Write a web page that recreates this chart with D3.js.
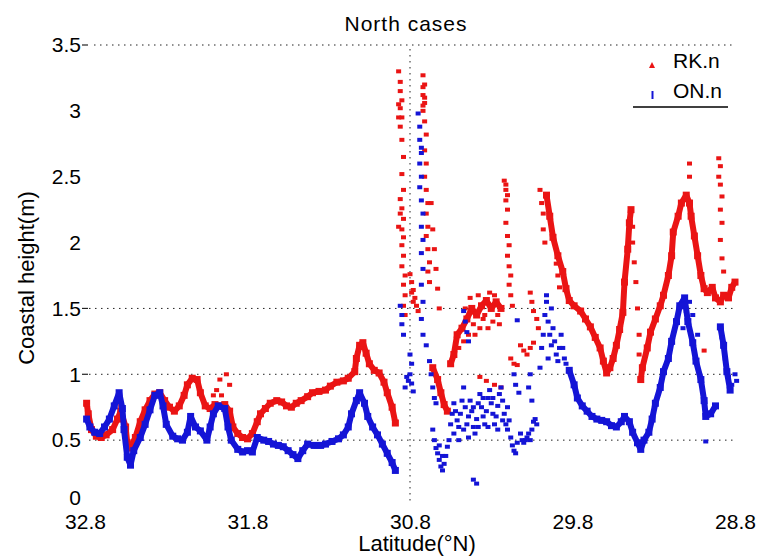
<!DOCTYPE html>
<html>
<head>
<meta charset="utf-8">
<script src="https://cdn.jsdelivr.net/npm/d3@7"></script>
<style>
    body { margin: 0; background: #fff; }
    text { font-family: Arial, "Liberation Sans", sans-serif; fill: #000; }
</style>
</head>
<body>
<div id="chart"></div>
<script>
// Axis ticks
var xTicks = [32.8, 31.8, 30.8, 29.8, 28.8];
var yTicks = [0, 0.5, 1, 1.5, 2, 2.5, 3, 3.5];
var gridY = [0.5, 1, 1.5, 3.5];
var gridX = [30.8];
var seriesNames = ["RK.n", "ON.n"];

// RK.n : continuous stretches [latitude, height]
var rkTrack = [
    [32.79,0.78],[32.78,0.70],[32.76,0.58],[32.73,0.53],[32.70,0.52],[32.67,0.54],[32.63,0.58],[32.60,0.66],
    [32.58,0.72],[32.55,0.60],[32.54,0.48],[32.52,0.44],[32.49,0.52],[32.46,0.64],[32.43,0.73],[32.40,0.80],
    [32.37,0.85],[32.34,0.86],[32.31,0.80],[32.28,0.75],[32.25,0.72],[32.22,0.76],[32.19,0.84],[32.17,0.92],
    [32.14,0.97],[32.11,0.96],[32.09,0.86],[32.06,0.76],[32.03,0.74],[32.00,0.77],[31.97,0.76],[31.94,0.77],
    [31.91,0.72],[31.89,0.60],[31.86,0.55],[31.83,0.52],[31.80,0.51],[31.77,0.55],[31.74,0.64],[31.72,0.70],
    [31.69,0.74],[31.66,0.78],[31.62,0.80],[31.59,0.79],[31.56,0.76],[31.53,0.75],[31.50,0.78],[31.47,0.80],
    [31.43,0.83],[31.40,0.86],[31.36,0.87],[31.32,0.88],[31.29,0.91],[31.25,0.94],[31.21,0.95],[31.18,0.97],
    [31.14,1.02],[31.13,1.12],[31.11,1.22],[31.09,1.24],[31.07,1.16],[31.05,1.08],[31.02,1.03],[30.99,1.01],
    [30.96,0.94],[30.94,0.86],[30.91,0.75],[30.89,0.63],
    [30.66,1.05],[30.63,0.96],[30.61,0.86],[30.59,0.77],[30.57,0.72],
    [30.55,1.08],[30.53,1.15],[30.51,1.30],[30.48,1.35],[30.45,1.42],[30.42,1.50],[30.39,1.45],[30.36,1.52],
    [30.33,1.56],[30.30,1.50],[30.27,1.55],[30.24,1.50],
    [29.96,2.36],[29.94,2.20],[29.92,2.04],[29.89,1.90],[29.86,1.78],[29.84,1.65],[29.82,1.56],[29.79,1.52],
    [29.75,1.48],[29.72,1.42],[29.69,1.36],[29.66,1.28],[29.63,1.20],[29.61,1.10],[29.59,1.01],[29.57,1.05],
    [29.55,1.12],[29.53,1.22],[29.51,1.34],[29.49,1.47],[29.48,1.70],[29.46,1.95],[29.45,2.15],[29.44,2.25],
    [29.38,0.96],[29.37,1.05],[29.34,1.20],[29.32,1.32],[29.29,1.42],[29.26,1.52],[29.24,1.60],[29.21,1.75],
    [29.19,1.90],[29.18,2.08],[29.15,2.20],[29.13,2.30],[29.10,2.36],[29.08,2.30],[29.07,2.20],[29.05,2.05],
    [29.03,1.90],[29.01,1.75],[28.99,1.65],[28.97,1.62],[28.94,1.66],[28.92,1.58],[28.89,1.55],[28.87,1.60],
    [28.84,1.58],[28.82,1.66],[28.80,1.70]
];

// RK.n : scattered readings
var rkScatter = [
    [31.99,0.88],[31.97,0.96],[31.93,1.00],[31.96,0.84],[32.01,0.84],[31.91,0.92],[32.58,0.76],
    [30.87,3.30],[30.86,3.22],[30.86,3.15],[30.85,3.08],[30.86,3.02],[30.85,2.95],[30.86,2.88],[30.85,2.78],
    [30.84,2.65],[30.85,2.52],[30.84,2.40],[30.86,2.33],[30.85,2.26],[30.84,2.18],[30.85,2.10],[30.84,2.04],
    [30.85,1.98],[30.84,1.90],[30.85,1.82],[30.83,1.75],[30.84,1.68],[30.83,1.60],[30.84,1.52],[30.83,1.45],
    [30.87,3.05],[30.87,2.95],[30.86,2.22],[30.87,2.12],
    [30.72,3.27],[30.71,3.20],[30.72,3.12],[30.71,3.06],[30.72,3.00],[30.71,2.92],[30.70,2.82],[30.71,2.70],
    [30.70,2.60],[30.71,2.50],[30.70,2.40],[30.69,2.30],[30.70,2.22],[30.69,2.12],[30.70,2.05],[30.69,1.95],
    [30.68,1.85],[30.69,1.78],[30.68,1.70],[30.72,3.18],[30.71,3.10],[30.72,3.04],
    [30.80,1.76],[30.79,1.70],[30.78,1.64],[30.77,1.58],[30.76,1.52],[30.75,1.48],[30.79,1.62],[30.78,1.55],
    [30.67,2.30],[30.66,2.10],[30.65,1.95],[30.64,1.80],[30.63,1.65],[30.62,1.50],
    [30.37,0.98],[30.33,0.95],[30.28,0.92],[30.24,0.90],
    [30.44,1.30],[30.41,1.38],[30.38,1.60],[30.35,1.42],[30.31,1.62],[30.29,1.40],[30.26,1.45],
    [30.50,1.20],[30.47,1.25],[30.46,1.50],[30.43,1.58],[30.40,1.30],[30.37,1.35],[30.34,1.45],[30.32,1.35],
    [30.28,1.60],[30.25,1.38],
    [30.22,2.47],[30.21,2.40],[30.21,2.32],[30.20,2.25],[30.21,2.15],[30.20,2.05],[30.19,1.98],[30.20,1.90],
    [30.19,1.82],[30.18,1.75],[30.19,1.68],[30.18,1.60],[30.17,1.52],[30.21,2.44],[30.20,2.36],
    [30.18,1.12],[30.16,1.08],[30.14,1.07],[30.12,1.22],[30.10,1.18],[30.08,1.15],[30.06,1.20],[30.04,1.24],
    [30.06,1.62],[30.05,1.55],[30.04,1.48],[30.02,1.42],[30.01,1.35],
    [30.00,2.40],[29.99,2.30],[29.98,2.22],[29.98,2.10],[29.97,2.00],
    [29.90,1.84],[29.89,1.75],[29.88,1.66],
    [29.43,2.12],[29.43,2.00],[29.42,1.85],[29.41,1.70],[29.40,1.50],[29.39,1.30],[29.39,1.15],
    [29.08,2.50],[29.08,2.60],
    [28.90,2.64],[28.89,2.58],[28.90,2.50],[28.89,2.44],[28.88,2.35],[28.89,2.25],[28.88,2.15],[28.89,2.02],
    [28.88,1.88],[28.87,1.78],[28.99,1.18]
];

// ON.n : continuous stretches [latitude, height]
var onTrack = [
    [32.79,0.66],[32.77,0.60],[32.74,0.56],[32.71,0.55],[32.68,0.60],[32.65,0.66],[32.62,0.76],[32.59,0.86],
    [32.57,0.74],[32.56,0.58],[32.54,0.37],[32.52,0.31],[32.50,0.42],[32.46,0.52],[32.43,0.62],[32.40,0.73],
    [32.37,0.84],[32.34,0.86],[32.32,0.76],[32.30,0.62],[32.26,0.53],[32.23,0.51],[32.20,0.50],[32.17,0.56],
    [32.15,0.68],[32.12,0.60],[32.09,0.57],[32.05,0.50],[32.03,0.60],[32.01,0.70],[31.98,0.76],[31.94,0.74],
    [31.92,0.60],[31.90,0.50],[31.86,0.43],[31.83,0.41],[31.80,0.42],[31.77,0.41],[31.74,0.52],[31.70,0.50],
    [31.67,0.49],[31.64,0.47],[31.61,0.46],[31.58,0.45],[31.55,0.42],[31.52,0.39],[31.49,0.36],[31.46,0.42],
    [31.43,0.47],[31.39,0.46],[31.35,0.46],[31.32,0.47],[31.28,0.49],[31.24,0.51],[31.21,0.54],[31.18,0.60],
    [31.16,0.70],[31.13,0.80],[31.11,0.86],[31.08,0.78],[31.06,0.68],[31.03,0.60],[31.00,0.54],[30.97,0.47],
    [30.94,0.40],[30.91,0.33],[30.89,0.27],
    [29.82,1.03],[29.79,0.92],[29.77,0.82],[29.74,0.76],[29.71,0.72],[29.68,0.68],[29.65,0.66],[29.62,0.65],
    [29.59,0.64],[29.56,0.61],[29.53,0.60],[29.50,0.64],[29.48,0.68],[29.45,0.64],[29.43,0.56],[29.40,0.48],
    [29.38,0.43],[29.36,0.50],[29.33,0.56],[29.31,0.66],[29.29,0.78],[29.26,0.90],[29.24,1.02],[29.21,1.12],
    [29.19,1.25],[29.16,1.40],[29.14,1.52],[29.11,1.58],[29.09,1.40],[29.06,1.24],[29.04,1.10],[29.01,0.96],
    [28.99,0.80],[28.98,0.68],[28.95,0.70],[28.92,0.76],[28.89,1.36],[28.87,1.22],[28.85,1.02],[28.83,0.88]
];

// ON.n : scattered readings
var onScatter = [
    [30.86,1.52],[30.85,1.45],[30.85,1.38],[30.84,1.30],
    [30.75,2.98],[30.74,2.88],[30.74,2.78],[30.73,2.72],[30.73,2.68],[30.74,2.60],[30.73,2.50],[30.74,2.42],
    [30.73,2.32],[30.72,2.22],[30.73,2.12],[30.72,2.02],[30.73,1.92],[30.72,1.80],[30.73,1.68],[30.72,1.55],
    [30.73,1.42],[30.72,1.30],
    [30.80,1.15],[30.79,1.08],[30.80,1.00],[30.79,0.93],[30.78,0.87],[30.81,0.95],[30.82,0.98],[30.83,0.90],
    [30.70,1.22],[30.68,1.10],[30.67,1.00],[30.66,0.90],[30.65,0.82],[30.64,0.78],
    [30.66,0.58],[30.65,0.50],[30.64,0.44],[30.63,0.40],[30.62,0.35],[30.61,0.30],[30.60,0.27],[30.59,0.32],
    [30.58,0.38],[30.57,0.45],[30.56,0.50],[30.62,0.46],[30.60,0.38],
    [30.55,0.62],[30.54,0.70],[30.53,0.78],[30.52,0.72],[30.51,0.65],[30.50,0.60],[30.49,0.70],[30.48,0.80],
    [30.47,0.90],[30.46,0.75],[30.45,0.62],[30.44,0.68],[30.43,0.80],[30.42,0.72],[30.41,0.60],[30.40,0.55],
    [30.39,0.66],[30.38,0.78],[30.37,0.85],
    [30.53,0.55],[30.50,0.50],[30.47,0.58],[30.44,0.52],[30.41,0.75],[30.38,0.60],[30.35,0.82],[30.32,0.60],
    [30.29,0.82],[30.26,0.58],[30.23,0.65],[30.20,0.75],
    [30.47,1.48],[30.46,1.40],[30.45,1.32],[30.44,1.25],
    [30.36,0.75],[30.35,0.68],[30.34,0.62],[30.33,0.72],[30.32,0.82],[30.31,0.88],[30.30,0.78],[30.29,0.70],
    [30.28,0.62],[30.27,0.68],[30.26,0.76],[30.25,0.85],[30.24,0.90],[30.23,0.80],[30.22,0.70],[30.21,0.62],
    [30.20,0.58],[30.19,0.65],
    [30.18,0.52],[30.17,0.46],[30.16,0.42],[30.15,0.40],[30.14,0.48],
    [30.12,0.55],[30.11,0.50],[30.10,0.48],[30.09,0.50],[30.08,0.52],[30.07,0.55],[30.06,0.50],[30.05,0.58],
    [30.04,0.64],[30.03,0.66],[30.02,0.62],
    [30.14,1.41],[30.16,1.00],[30.15,0.92],[30.13,0.86],
    [30.00,1.05],[29.99,1.20],[29.98,1.30],[29.97,1.45],[29.96,1.55],[29.95,1.40],[29.94,1.30],[29.93,1.22],
    [29.92,1.35],[29.91,1.25],[29.90,1.15],[29.89,1.10],[29.88,1.20],[29.87,1.30],[29.86,1.20],[29.85,1.12],
    [29.84,1.08],[29.96,1.60],[29.93,1.50],[29.95,1.12],
    [30.41,0.20],[30.39,0.17],
    [30.07,0.90],[30.06,1.00],[30.05,0.80],
    [29.12,1.35],[29.10,1.48],[29.08,1.55],[29.06,1.45],[29.03,1.30],[28.98,0.49],
    [28.88,1.28],[28.86,1.12],[28.84,0.98],[28.82,0.92],[28.80,1.00],[28.79,0.95]
];

var colors = { "RK.n": "#ea1414", "ON.n": "#1414d6" };

// Define dimensions for svg container
var svgWidth = 757;
var svgHeight = 559;

var svg = d3.select("#chart")
    .append("svg")
    .attr("width", svgWidth)
    .attr("height", svgHeight);

// Scales (latitude runs from north to south)
var xScale = d3.scaleLinear().domain([32.8, 28.8]).range([85, 735]);
var yScale = d3.scaleLinear().domain([0, 3.5]).range([506, 45]);

// Dotted grid lines
svg.selectAll(".gridY")
    .data(gridY)
    .enter()
    .append("line")
    .attr("x1", d => d === 3.5 ? 94 : 89)
    .attr("x2", 735)
    .attr("y1", d => yScale(d))
    .attr("y2", d => yScale(d))
    .attr("stroke", "#222")
    .attr("stroke-width", 1)
    .attr("stroke-dasharray", "1.5,4.5");

svg.selectAll(".gridX")
    .data(gridX)
    .enter()
    .append("line")
    .attr("x1", d => xScale(d))
    .attr("x2", d => xScale(d))
    .attr("y1", yScale(3.5) + 4)
    .attr("y2", yScale(0) - 3)
    .attr("stroke", "#222")
    .attr("stroke-width", 1)
    .attr("stroke-dasharray", "1.5,4.5");

// small tick dashes next to some labels
svg.selectAll(".tickDash")
    .data([1, 1.5, 3.5])
    .enter()
    .append("line")
    .attr("x1", 82)
    .attr("x2", 88)
    .attr("y1", d => yScale(d))
    .attr("y2", d => yScale(d))
    .attr("stroke", "#222")
    .attr("stroke-width", 1.2);

// Axes (no axis lines, labels only)
var leftAxis = d3.axisLeft(yScale)
    .tickValues(yTicks)
    .tickSize(0)
    .tickPadding(0)
    .tickFormat(d3.format("~g"));
var yAxis = svg.append("g")
    .attr("transform", "translate(81, 0)")
    .call(leftAxis);

var bottomAxis = d3.axisBottom(xScale)
    .tickValues(xTicks)
    .tickSize(0)
    .tickPadding(0)
    .tickFormat(d3.format(".1f"));
var xAxis = svg.append("g")
    .attr("transform", "translate(0, 514)")
    .call(bottomAxis);

[xAxis, yAxis].forEach(function (g) {
    g.select(".domain").remove();
    g.selectAll("text")
        .style("font-family", "Arial, 'Liberation Sans', sans-serif")
        .style("font-size", "21px")
        .attr("fill", "#111");
});
// the "0" label sits just above the first latitude label
yAxis.selectAll(".tick text").filter(d => d === 0).attr("dy", "-0.05em");

// split a track where there are gaps or jumps
function splitTrack(points) {
    var segs = [];
    var cur = [];
    points.forEach(function (p, i) {
        var prev = points[i - 1];
        if (prev && (Math.abs(prev[0] - p[0]) > 0.045 || Math.abs(prev[1] - p[1]) > 0.3)) {
            segs.push(cur);
            cur = [];
        }
        cur.push(p);
    });
    segs.push(cur);
    return segs;
}

var line = d3.line()
    .x(d => xScale(d[0]))
    .y(d => yScale(d[1]));

function drawSeries(name, track, scatter) {
    var g = svg.append("g").attr("class", "series");
    var color = colors[name];

    g.selectAll(".seg")
        .data(splitTrack(track))
        .enter()
        .append("path")
        .attr("d", line)
        .attr("fill", "none")
        .attr("stroke", color)
        .attr("stroke-width", 6)
        .attr("stroke-linejoin", "bevel");

    g.selectAll(".pt")
        .data(track)
        .enter()
        .append("rect")
        .attr("x", d => xScale(d[0]) - 3.5)
        .attr("y", d => yScale(d[1]) - 3.5)
        .attr("width", 7)
        .attr("height", 7)
        .attr("fill", color);

    g.selectAll(".dot")
        .data(scatter)
        .enter()
        .append("rect")
        .attr("x", d => xScale(d[0]) - 2.5)
        .attr("y", d => yScale(d[1]) - 2)
        .attr("width", 5)
        .attr("height", 4)
        .attr("fill", color);
}

drawSeries("RK.n", rkTrack, rkScatter);
drawSeries("ON.n", onTrack, onScatter);

// Title and axis labels
svg.append("text")
    .attr("x", 406)
    .attr("y", 31)
    .attr("text-anchor", "middle")
    .style("font-size", "21px")
    .style("letter-spacing", "1px")
    .text("North cases");

svg.append("text")
    .attr("transform", "translate(34, 278) rotate(-90)")
    .attr("text-anchor", "middle")
    .style("font-size", "22px")
    .text("Coastal height(m)");

svg.append("text")
    .attr("x", 417)
    .attr("y", 551)
    .attr("text-anchor", "middle")
    .style("font-size", "22px")
    .text("Latitude(°N)");

// Legend
var legend = svg.append("g").attr("class", "legend");
var legendY = [60, 90];

legend.selectAll(".lmark")
    .data(seriesNames)
    .enter()
    .append("path")
    .attr("d", function (d, i) {
        var cy = legendY[i] + 5;
        if (i === 0) return `M649,${cy + 3}L652,${cy - 3}L655,${cy + 3}Z`;
        return `M651.5,${cy - 4}h2v8h-2Z`;
    })
    .attr("fill", d => colors[d]);

legend.selectAll(".ltext")
    .data(seriesNames)
    .enter()
    .append("text")
    .attr("x", 673)
    .attr("y", (d, i) => legendY[i] + 8)
    .style("font-size", "21px")
    .text(d => d);

legend.append("line")
    .attr("x1", 633)
    .attr("x2", 728)
    .attr("y1", 107)
    .attr("y2", 107)
    .attr("stroke", "#000")
    .attr("stroke-width", 1.5);
</script>
</body>
</html>
